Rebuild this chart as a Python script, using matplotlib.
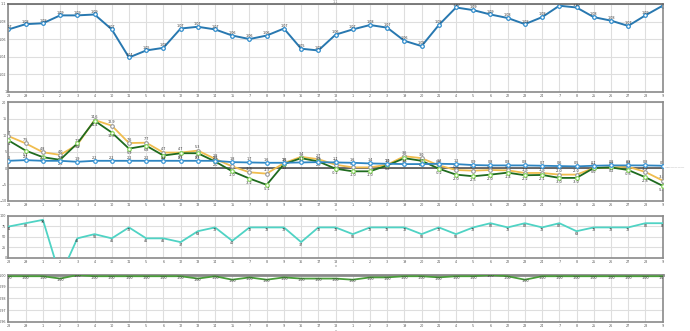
import numpy as np
import matplotlib
matplotlib.use("Agg")
import matplotlib.pyplot as plt

# day labels under each point
days = ["28", "29", "1", "2", "3", "4", "10", "11", "5", "6", "12", "13", "14",
        "15", "7", "8", "9", "16", "17", "18", "1", "2", "3", "19", "20", "21", "4",
        "5", "6", "22", "23", "24", "7", "8", "25", "26", "27", "28", "9"]

# panel 1
ratio = [1.071, 1.077, 1.078, 1.087, 1.087, 1.088, 1.071, 1.039, 1.047, 1.050,
         1.072, 1.074, 1.071, 1.064, 1.060, 1.064, 1.072, 1.049, 1.047, 1.065,
         1.071, 1.076, 1.073, 1.058, 1.052, 1.076, 1.096, 1.093, 1.088, 1.084,
         1.077, 1.085, 1.098, 1.096, 1.085, 1.081, 1.075, 1.087, 1.098]

# panel 2
blue = [2.2, 2.4, 2.2, 2.2, 1.9, 2.2, 2.2, 2.2, 2.2, 2.2, 2.2, 2.2, 2.2,
        1.8, 1.7, 1.6, 1.6, 1.7, 1.8, 1.7, 1.6, 1.4, 1.3, 1.2, 1.2, 1.3, 1.2,
        0.9, 0.8, 0.8, 0.8, 0.7, 0.6, 0.5, 0.7, 0.8, 0.8, 0.8, 0.7]
orange = [9.7, 7.5, 4.8, 4.0, 7.1, 14.6, 12.9, 7.6, 7.7, 4.7, 4.7, 5.3, 2.8,
          0.5, -1.3, -1.7, 1.5, 3.4, 2.7, 1.0, 0.2, 0.2, 1.0, 3.6, 3.0, 0.8, -0.6,
          -0.8, -0.6, -0.7, -1.5, -1.5, -2.0, -2.0, 0.0, 0.2, 0.4, -1.2, -3.8]
green = [8.4, 5.3, 3.3, 2.5, 7.5, 14.4, 10.8, 5.9, 6.8, 3.8, 4.5, 4.5, 2.0,
         -1.0, -3.2, -5.1, 1.2, 3.0, 2.0, -0.2, -1.0, -1.0, 0.8, 3.0, 2.2, -0.2, -2.0,
         -2.5, -2.0, -1.4, -2.2, -2.1, -3.0, -3.0, 0.0, 0.2, -0.6, -2.8, -5.4]

# panel 3
count = [74, 82, 90, -45, 46, 56, 46, 72, 46, 46, 37, 63, 72,
         40, 72, 72, 72, 37, 72, 72, 56, 72, 72, 72, 56, 72, 56,
         72, 82, 72, 82, 72, 82, 63, 72, 72, 72, 82, 82]

# panel 4
rate = [0.999, 0.999, 0.999, 0.997, 1.000, 0.999, 0.999, 0.999, 0.999, 0.999,
        0.999, 0.997, 0.999, 0.996, 0.998, 0.996, 0.998, 0.997, 0.997, 0.997,
        0.996, 0.998, 0.998, 0.999, 0.999, 0.998, 0.999, 0.999, 1.000, 0.999,
        0.996, 0.999, 0.999, 0.999, 0.999, 0.999, 0.999, 0.999, 0.999]

x = np.arange(len(days))
FS = 2.4

fig = plt.figure(figsize=(6.9, 3.31), dpi=100)
L, W = 0.0123, 0.948
ax1 = fig.add_axes([L, 0.723, W, 0.265])
ax2 = fig.add_axes([L, 0.393, W, 0.298])
ax3 = fig.add_axes([L, 0.2215, W, 0.127])
ax4 = fig.add_axes([L, 0.028, W, 0.141])


def style(ax):
    ax.set_xlim(0, len(days) - 1)
    ax.set_xticks(x)
    ax.set_xticklabels(days, fontsize=FS, color="#555555")
    ax.tick_params(length=0, pad=1.5, labelsize=FS, colors="#555555")
    ax.grid(True, color="#dedede", lw=0.8)
    ax.set_axisbelow(True)
    for s in ax.spines.values():
        s.set_color("#8a8a8a")
        s.set_linewidth(1.2)


def labels(ax, vals, fmt, dy, color="#333333"):
    for xi, v in zip(x, vals):
        ax.text(xi, v + dy, fmt.format(v), fontsize=FS, ha="center",
                va="center", color=color, clip_on=True)


# panel 1
style(ax1)
ax1.plot(x, ratio, color="#2878b0", lw=1.4, marker="o", ms=2.6,
         mfc="white", mec="#2f8ccc", mew=0.9)
labels(ax1, ratio, "{:.2f}", 0.003)
ax1.set_ylim(1.0, 1.1)
ax1.set_yticks([1.0, 1.02, 1.04, 1.06, 1.08, 1.1])
ax1.set_yticklabels(["1", "1.02", "1.04", "1.06", "1.08", "1.1"])
ax1.spines["top"].set_color("#666666")
ax1.set_title("1.1", fontsize=FS, color="#777777", pad=1)

# panel 2
style(ax2)
ax2.axhline(0, color="#444444", lw=1.1)
ax2.plot(x, orange, color="#f0bd4f", lw=1.3, marker="o", ms=2.6,
         mfc="white", mec="#999999", mew=0.8, zorder=3)
ax2.plot(x, green, color="#1f6b1f", lw=1.3, marker="o", ms=2.6,
         mfc="white", mec="#8ad760", mew=0.9, zorder=3)
ax2.plot(x, blue, color="#2f86c2", lw=1.3, marker="o", ms=2.6,
         mfc="white", mec="#3a96d6", mew=0.9, zorder=4)
labels(ax2, orange, "{:.1f}", 1.0)
labels(ax2, green, "{:.1f}", -1.2)
labels(ax2, blue, "{:.1f}", 0.9)
ax2.set_ylim(-10, 20)
ax2.set_yticks([-10, -5, 0, 5, 10, 15, 20])
ax2.text(len(days) - 0.85, blue[-1] - 0.4, "——————", fontsize=FS,
         color="#999999", va="center", clip_on=False)

# panel 3
style(ax3)
ax3.plot(x, count, color="#4fd3c4", lw=1.3, zorder=3)
labels(ax3, count, "{:d}", -6)
ax3.set_ylim(0, 100)
ax3.set_yticks([0, 25, 50, 75, 100])

# panel 4
style(ax4)
ax4.plot(x, rate, color="#4a9e3a", lw=1.3, zorder=3)
labels(ax4, rate, "{:.2f}", -0.0012)
ax4.set_ylim(0.96, 1.0)
ax4.set_yticks([0.96, 0.97, 0.98, 0.99, 1.0])
ax4.spines["top"].set_linewidth(2)

for ax in [ax1, ax2, ax3, ax4]:
    ax.set_xlabel("x", fontsize=FS, color="#777777", labelpad=0.5)

fig.savefig("out.png", dpi=100)
